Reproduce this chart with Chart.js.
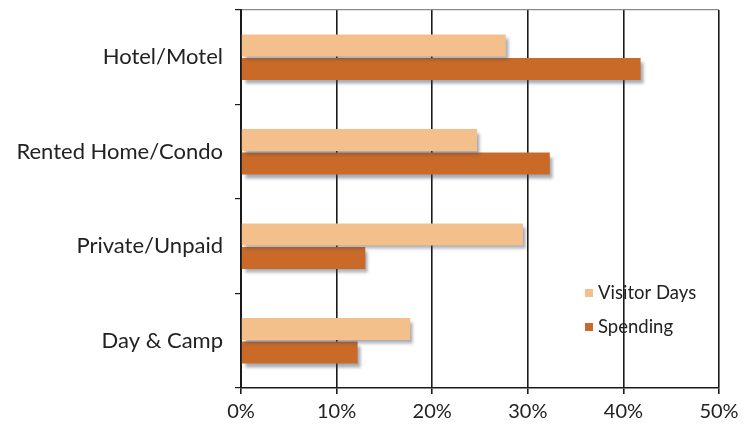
<!DOCTYPE html>
<html>
<head>
<meta charset="utf-8">
<script src="https://cdn.jsdelivr.net/npm/chart.js@4/dist/chart.umd.min.js"></script>
<style>
  html, body { margin: 0; padding: 0; background: #fff; }
  #wrap { width: 746px; height: 427px; }
</style>
</head>
<body>
<div id="wrap"><canvas id="graph" width="746" height="427"></canvas></div>
<script>
const categories = ['Hotel/Motel', 'Rented Home/Condo', 'Private/Unpaid', 'Day & Camp'];
const visitorDays = [27.7, 24.7, 29.5, 17.7];
const spending = [41.8, 32.3, 13.0, 12.2];
const xTicks = [0, 10, 20, 30, 40, 50];

const FONT = 'Lato, "Open Sans", sans-serif';

// drop shadow under the bars
const barShadow = {
  id: 'barShadow',
  beforeDatasetsDraw(chart) {
    const c = chart.ctx;
    c.save();
    c.shadowColor = 'rgba(60,70,90,0.45)';
    c.shadowBlur = 3;
    c.shadowOffsetX = 3;
    c.shadowOffsetY = 4;
  },
  afterDatasetsDraw(chart) {
    chart.ctx.restore();
  }
};

// legend drawn inside the plot area
const innerLegend = {
  id: 'innerLegend',
  afterDraw(chart) {
    const c = chart.ctx;
    c.save();
    c.font = '18.5px ' + FONT;
    c.textBaseline = 'middle';
    chart.data.datasets.forEach((ds, i) => {
      const y = 293 + i * 34;
      c.fillStyle = ds.backgroundColor;
      c.fillRect(585, y - 4, 8, 8);
      c.fillStyle = '#222';
      c.fillText(ds.label, 598, y);
    });
    c.restore();
  }
};

new Chart(document.getElementById('graph').getContext('2d'), {
  type: 'bar',
  data: {
    labels: categories,
    datasets: [
      { label: 'Visitor Days', data: visitorDays, backgroundColor: '#f3c08c', borderWidth: 0,
        categoryPercentage: 0.5, barPercentage: 0.93 },
      { label: 'Spending', data: spending, backgroundColor: '#c96a28', borderWidth: 0,
        categoryPercentage: 0.5, barPercentage: 0.93 }
    ]
  },
  options: {
    indexAxis: 'y',
    responsive: false,
    animation: false,
    layout: { padding: { top: 10, right: 27, left: 0, bottom: 0 } },
    plugins: {
      legend: { display: false },
      tooltip: { enabled: false }
    },
    scales: {
      x: {
        min: 0,
        max: 50,
        afterBuildTicks: axis => { axis.ticks = xTicks.map(v => ({ value: v })); },
        afterFit: axis => { axis.height = 39; },
        ticks: {
          callback: v => v + '%',
          color: '#222',
          font: { family: FONT, size: 20 },
          padding: 6
        },
        grid: { color: '#1a1a1a', lineWidth: 1.6, tickLength: 6, tickColor: '#1a1a1a' },
        border: { color: '#1a1a1a', width: 1.5 }
      },
      y: {
        afterFit: axis => {
          axis.width = 241;
          axis.paddingTop = 0;
          axis.paddingBottom = 0;
        },
        ticks: {
          color: '#222',
          font: { family: FONT, size: 22 },
          padding: 12
        },
        grid: {
          offset: true,
          color: ctx => ctx.index === 0 ? '#8a8a8a' : 'rgba(0,0,0,0)',
          lineWidth: 1.2,
          tickLength: 6,
          tickColor: '#1a1a1a'
        },
        border: { color: '#1a1a1a', width: 2 }
      }
    }
  },
  plugins: [barShadow, innerLegend]
});
</script>
</body>
</html>
